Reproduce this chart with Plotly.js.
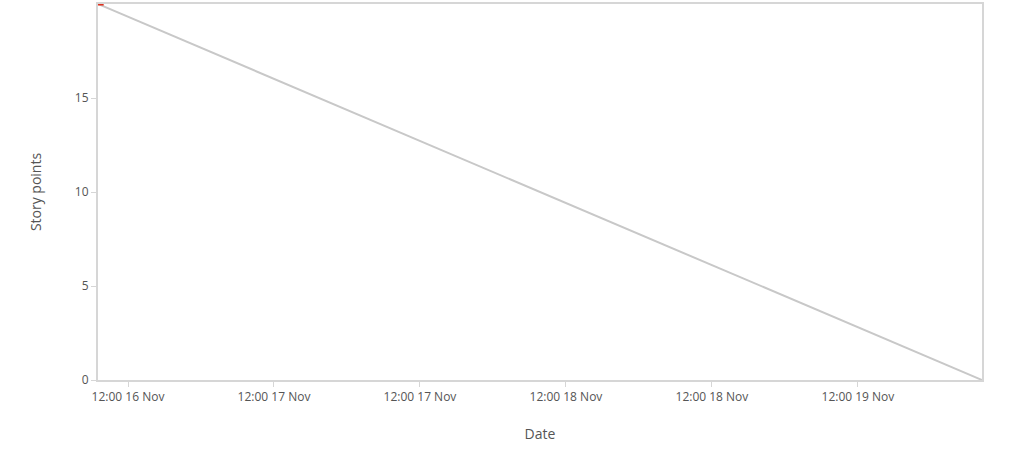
<!DOCTYPE html>
<html><head><script src="https://cdn.plot.ly/plotly-3.0.1.min.js"></script>
<style>body{margin:0}</style></head><body>
<div id="c" style="width:1035px;height:461px"></div>
<script>
const idealDates = ["2023-11-16 09:32", "2023-11-19 10:12"];
const idealPoints = [20, 0];
const actualDates = ["2023-11-16 09:32", "2023-11-16 10:00"];
const actualPoints = [20, 20];
const tickVals = ["2023-11-16 12:00","2023-11-17 00:00","2023-11-17 12:00","2023-11-18 00:00","2023-11-18 12:00","2023-11-19 00:00"];
const tickText = ["12:00 16 Nov","12:00 17 Nov","12:00 17 Nov","12:00 18 Nov","12:00 18 Nov","12:00 19 Nov"];
const font = {family:"Segoe UI, Open Sans, sans-serif", color:"#555", size:12};
Plotly.newPlot("c", [
 {x:idealDates, y:idealPoints, mode:"lines", line:{color:"#c8c8c8", width:2}, hoverinfo:"skip"},
 {x:actualDates, y:actualPoints, mode:"lines", line:{color:"#e0301e", width:3}}
], {
 width:1035, height:461, showlegend:false, font:font,
 margin:{l:98, r:53, t:4, b:81},
 plot_bgcolor:"#fff", paper_bgcolor:"#fff",
 xaxis:{type:"date", range:[idealDates[0], idealDates[1]], tickvals:tickVals, ticktext:tickText,
   showgrid:false, zeroline:false, showline:true, mirror:true, linecolor:"#d6d6d6", linewidth:2,
   ticks:"outside", ticklen:5, tickcolor:"#d6d6d6",
   title:{text:"Date", font:{size:14, color:"#555"}, standoff:25}},
 yaxis:{range:[0,20], tickvals:[0,5,10,15], showgrid:false, zeroline:false, showline:true, mirror:true,
   linecolor:"#d6d6d6", linewidth:2, ticks:"outside", ticklen:5, tickcolor:"#d6d6d6",
   title:{text:"Story points", font:{size:14, color:"#555"}, standoff:30}}
}, {displayModeBar:false});
</script></body></html>
